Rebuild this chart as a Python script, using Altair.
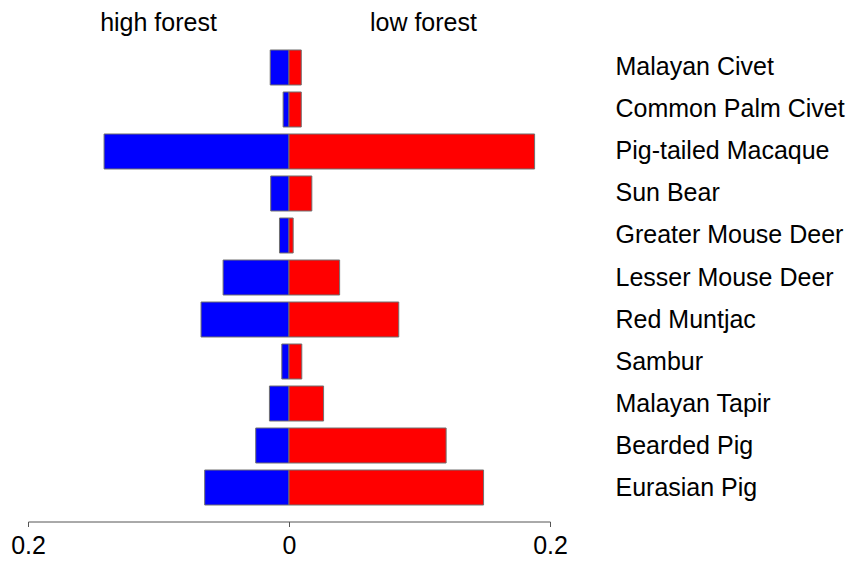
import altair as alt
import pandas as pd

species = ["Malayan Civet", "Common Palm Civet", "Pig-tailed Macaque", "Sun Bear",
           "Greater Mouse Deer", "Lesser Mouse Deer", "Red Muntjac", "Sambur",
           "Malayan Tapir", "Bearded Pig", "Eurasian Pig"]
high_forest = [0.0144, 0.0045, 0.1417, 0.0140, 0.0073, 0.0505, 0.0674, 0.0055, 0.0150, 0.0255, 0.0646]
low_forest = [0.0094, 0.0094, 0.1882, 0.0175, 0.0032, 0.0388, 0.0841, 0.0098, 0.0265, 0.1204, 0.1491]
x_ticks = [-0.2, 0, 0.2]
headers = ["high forest", "low forest"]
header_pos = [-0.1, 0.103]

rows = []
for s, h, l in zip(species, high_forest, low_forest):
    rows.append({"species": s, "side": "high forest", "start": 0.0, "end": -h})
    rows.append({"species": s, "side": "low forest", "start": 0.0, "end": l})
df = pd.DataFrame(rows)
hdr = pd.DataFrame({"label": headers, "x": header_pos})

FONT = "Liberation Sans"

xscale = alt.Scale(domain=[-0.2, 0.2], nice=False, zero=False)

bars = alt.Chart(df).mark_bar(stroke="#707070", strokeWidth=1).encode(
    x=alt.X("start:Q", scale=xscale,
            axis=alt.Axis(values=x_ticks, title=None, grid=False,
                          labelExpr="'' + abs(datum.value)",
                          labelFontSize=25, labelFont=FONT, labelColor="black",
                          labelFlush=False, labelPadding=7, labelLimit=0,
                          domainColor="#555555", tickColor="#555555",
                          tickSize=5, offset=13)),
    x2="end:Q",
    y=alt.Y("species:N", sort=species,
            scale=alt.Scale(paddingInner=0.1667, paddingOuter=0.0833),
            axis=alt.Axis(orient="right", title=None, domain=False, ticks=False,
                          labelFontSize=25, labelFont=FONT, labelColor="black",
                          labelAlign="left", labelPadding=65, labelLimit=0)),
    color=alt.Color("side:N", scale=alt.Scale(domain=headers, range=["#0000FF", "#FF0000"]),
                    legend=None),
)

titles = alt.Chart(hdr).mark_text(fontSize=25, font=FONT, color="black",
                                  baseline="alphabetic", align="center").encode(
    x=alt.X("x:Q", scale=xscale),
    y=alt.value(-16),
    text="label:N",
)

chart = (bars + titles).properties(
    width=522, height=462,
    autosize=alt.AutoSizeParams(type="none"),
    padding={"left": 20, "top": 38.5, "right": 297, "bottom": 54},
).configure_view(stroke=None)

chart.save("out.html", embed_options={"renderer": "svg", "actions": False})
